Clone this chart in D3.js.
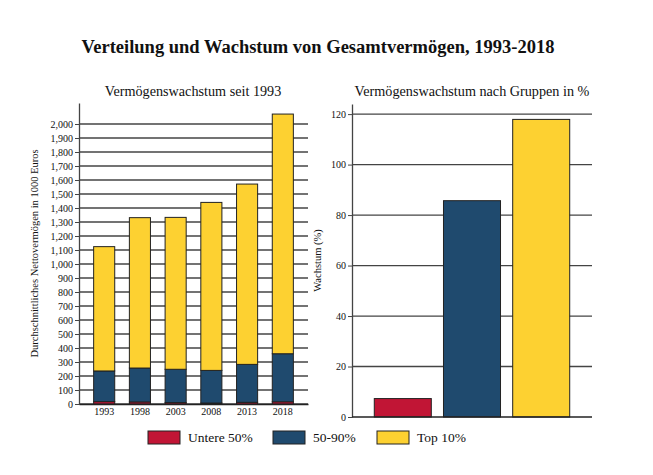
<!DOCTYPE html>
<html>
<head>
<meta charset="utf-8">
<script src="https://cdn.jsdelivr.net/npm/d3@7"></script>
<style>
  body { margin: 0; background: #fff; }
  svg text { font-family: 'Liberation Serif', 'Times New Roman', serif; fill: #111; }
</style>
</head>
<body>
<div id="graf"></div>
<script>
// daten
const jahre = ['1993', '1998', '2003', '2008', '2013', '2018']
const untere50 = [17, 15, 10, 7, 12, 16]
const mitte4090 = [219, 242, 238, 233, 271, 343]
const top10 = [888, 1074, 1085, 1200, 1288, 1712]

const gruppen = ['Untere 50%', '50-90%', 'Top 10%']
const wachstum = [7.3, 85.7, 117.9]

const farben = ['#c11535', '#1f4a6e', '#fdd131']

const svg = d3.select('#graf')
  .append('svg')
  .attr('width', 653)
  .attr('height', 475)

// titel
svg.append('text')
  .attr('x', 318).attr('y', 53)
  .attr('text-anchor', 'middle')
  .style('font-size', '18.5px')
  .style('font-weight', 'bold')
  .text('Verteilung und Wachstum von Gesamtvermögen, 1993-2018')

svg.append('text')
  .attr('x', 193).attr('y', 96)
  .attr('text-anchor', 'middle')
  .style('font-size', '14.2px')
  .text('Vermögenswachstum seit 1993')

svg.append('text')
  .attr('x', 472).attr('y', 96)
  .attr('text-anchor', 'middle')
  .style('font-size', '14.2px')
  .text('Vermögenswachstum nach Gruppen in %')

// ---- links: gestapelte balken
const links = { l: 79, r: 308, t: 103, b: 404 }

const x1 = d3.scaleBand()
  .domain(jahre)
  .range([links.l, links.r])
  .paddingInner(0.41)
  .paddingOuter(0.41)

const y1 = d3.scaleLinear()
  .domain([0, 2150])
  .range([links.b, links.t])

const ticks1 = d3.range(0, 2001, 100)

svg.append('g')
  .selectAll('line')
  .data(ticks1)
  .join('line')
  .attr('x1', links.l).attr('x2', links.r)
  .attr('y1', d => y1(d)).attr('y2', d => y1(d))
  .attr('stroke', '#444')
  .attr('stroke-width', 1.3)

const tabelle = jahre.map((j, i) => ({ jahr: j, u: untere50[i], m: mitte4090[i], t: top10[i] }))
const stack = d3.stack().keys(['u', 'm', 't'])(tabelle)

svg.append('g')
  .selectAll('g')
  .data(stack)
  .join('g')
  .attr('fill', (d, i) => farben[i])
  .selectAll('rect')
  .data(d => d)
  .join('rect')
  .attr('x', d => x1(d.data.jahr))
  .attr('width', x1.bandwidth())
  .attr('y', d => y1(d[1]))
  .attr('height', d => y1(d[0]) - y1(d[1]))
  .attr('stroke', '#222')
  .attr('stroke-width', 1)

const yAxis1 = svg.append('g')
  .attr('transform', `translate(${links.l}, 0)`)
  .call(d3.axisLeft(y1).tickValues(ticks1).tickFormat(d3.format(',')).tickSize(4).tickSizeOuter(0))
yAxis1.select('.domain').attr('stroke', '#444').attr('stroke-width', 1.3)
yAxis1.selectAll('.tick line').attr('stroke', '#444')
yAxis1.selectAll('text')
  .attr('x', -6)
  .style('font-size', '10px')
  .style('font-family', "'Liberation Serif', serif")
  .attr('fill', '#111')

const xAxis1 = svg.append('g')
  .attr('transform', `translate(0, ${links.b})`)
  .call(d3.axisBottom(x1).tickSize(0).tickSizeOuter(0))
xAxis1.select('.domain').attr('stroke', '#222').attr('stroke-width', 1.5)
xAxis1.selectAll('text')
  .attr('y', 4)
  .style('font-size', '10px')
  .style('font-family', "'Liberation Serif', serif")
  .attr('fill', '#111')

svg.append('text')
  .attr('transform', `translate(38, ${(links.t + links.b) / 2}) rotate(-90)`)
  .attr('text-anchor', 'middle')
  .style('font-size', '10.5px')
  .text('Durchschnittliches Nettovermögen in 1000 Euros')

// ---- rechts: wachstum
const rechts = { l: 352, r: 592, t: 104, b: 417 }

const x2 = d3.scaleBand()
  .domain(gruppen)
  .range([rechts.l, rechts.r])
  .paddingInner(0.176)
  .paddingOuter(0.322)

const y2 = d3.scaleLinear()
  .domain([0, 124])
  .range([rechts.b, rechts.t])

const ticks2 = d3.range(0, 121, 20)

svg.append('g')
  .selectAll('line')
  .data(ticks2.filter(d => d > 0))
  .join('line')
  .attr('x1', rechts.l).attr('x2', rechts.r)
  .attr('y1', d => y2(d)).attr('y2', d => y2(d))
  .attr('stroke', '#444')
  .attr('stroke-width', 1.3)

svg.append('g')
  .selectAll('rect')
  .data(wachstum)
  .join('rect')
  .attr('x', (d, i) => x2(gruppen[i]))
  .attr('width', x2.bandwidth())
  .attr('y', d => y2(d))
  .attr('height', d => y2(0) - y2(d))
  .attr('fill', (d, i) => farben[i])
  .attr('stroke', '#222')
  .attr('stroke-width', 1)

const yAxis2 = svg.append('g')
  .attr('transform', `translate(${rechts.l}, 0)`)
  .call(d3.axisLeft(y2).tickValues(ticks2).tickSize(4).tickSizeOuter(0))
yAxis2.select('.domain').attr('stroke', '#444').attr('stroke-width', 1.3)
yAxis2.selectAll('.tick line').attr('stroke', '#444')
yAxis2.selectAll('text')
  .attr('x', -6)
  .style('font-size', '10px')
  .style('font-family', "'Liberation Serif', serif")
  .attr('fill', '#111')

svg.append('line')
  .attr('x1', rechts.l).attr('x2', rechts.r)
  .attr('y1', y2(0)).attr('y2', y2(0))
  .attr('stroke', '#222')
  .attr('stroke-width', 1.5)

svg.append('text')
  .attr('transform', `translate(321, ${(rechts.t + rechts.b) / 2}) rotate(-90)`)
  .attr('text-anchor', 'middle')
  .style('font-size', '10.5px')
  .text('Wachstum (%)')

// ---- legende
const legX = [148, 273, 377]
const legende = svg.append('g')
  .selectAll('g')
  .data(gruppen)
  .join('g')
  .attr('transform', (d, i) => `translate(${legX[i]}, 431)`)

legende.append('rect')
  .attr('width', 32).attr('height', 13)
  .attr('fill', (d, i) => farben[i])
  .attr('stroke', '#222')
  .attr('stroke-width', 1)

legende.append('text')
  .attr('x', 40).attr('y', 11)
  .style('font-size', '13.5px')
  .text(d => d)
</script>
</body>
</html>
